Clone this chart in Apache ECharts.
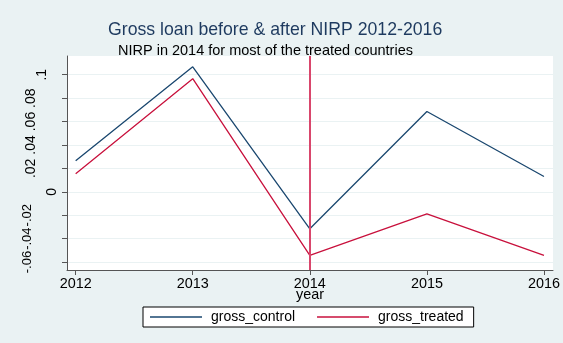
<!DOCTYPE html>
<html>
<head>
<meta charset="utf-8">
<script src="https://cdn.jsdelivr.net/npm/echarts@6/dist/echarts.min.js"></script>
<style>
	html, body { margin: 0; padding: 0; background: #eaf2f3; }
	#chart { width: 563px; height: 343px; }
</style>
</head>
<body>
<div id="chart"></div>
<script>
// 数据
var years = [2012, 2013, 2014, 2015, 2016];
var grossControl = [0.0265, 0.1068, -0.0316, 0.0686, 0.0131];
var grossTreated = [0.0154, 0.0966, -0.0544, -0.0188, -0.0544];
var yTicks = [-0.06, -0.04, -0.02, 0, 0.02, 0.04, 0.06, 0.08, 0.1];
var nirpYear = 2014;

// Stata 风格的数字 .02 / -.04
function stataNum(v) {
	if (v === 0) return '0';
	var s = String(Math.round(v * 100) / 100);
	return s.replace('0.', '.');
}

(function () {
	let myChart = echarts.init(document.getElementById('chart'));
	let font = 'Liberation Sans';
	let option = {
		backgroundColor: '#eaf2f3',
		animation: false,
		title: [
			{
				text: 'Gross loan before & after NIRP 2012-2016',
				left: 103,
				top: 16,
				textStyle: { color: '#1e3a5f', fontSize: 17.7, fontWeight: 'normal', fontFamily: font }
			},
			{
				text: 'NIRP in 2014 for most of the treated countries',
				left: 113,
				top: 38,
				textStyle: { color: '#000', fontSize: 14.5, fontWeight: 'normal', fontFamily: font }
			}
		],
		legend: {
			left: 143,
			top: 307,
			padding: [3, 10, 3, 7],
			itemGap: 22,
			itemWidth: 52,
			itemHeight: 1.5,
			icon: 'rect',
			backgroundColor: '#fff',
			borderColor: '#000',
			borderWidth: 1,
			borderRadius: 0,
			textStyle: { color: '#000', fontSize: 14, fontFamily: font, padding: [0, 0, 0, 4] }
		},
		grid: {
			left: 67,
			right: 10,
			top: 56,
			bottom: 73,
			show: true,
			backgroundColor: '#fff',
			borderWidth: 0
		},
		xAxis: {
			type: 'value',
			min: 2011.926,
			max: 2016.077,
			name: 'year',
			nameLocation: 'middle',
			nameGap: 18,
			nameMoveOverlap: false,
			nameTextStyle: { color: '#000', fontSize: 14.4, fontFamily: font },
			axisLine: { onZero: false, lineStyle: { color: '#555' } },
			axisTick: { customValues: years, length: 5, lineStyle: { color: '#555' } },
			axisLabel: {
				customValues: years,
				color: '#000',
				fontSize: 14.4,
				fontFamily: font,
				margin: 7,
				formatter: function (v) { return String(v); }
			},
			splitLine: { show: false }
		},
		yAxis: {
			type: 'value',
			min: -0.0668,
			max: 0.116,
			axisLine: { show: true, onZero: false, lineStyle: { color: '#555' } },
			axisTick: { show: true, customValues: yTicks, length: 5, lineStyle: { color: '#555' } },
			axisLabel: {
				customValues: yTicks,
				interval: 0,
				hideOverlap: false,
				showMinLabel: true,
				showMaxLabel: true,
				rotate: 90,
				color: '#000',
				fontSize: 14,
				fontFamily: font,
				margin: 5,
				formatter: function (v) {
					let s = stataNum(v);
					if (s === '0') return '{z|' + s + '}';
					if (s === '.1') return '{a|' + s + '}';
					if (s.charAt(0) === '-') return '{n|' + s + '}';
					return '{p|' + s + '}';
				},
				rich: {
					z: { fontSize: 14, fontFamily: font, color: '#000', padding: [0, 0, 3, 0] },
					a: { fontSize: 14, fontFamily: font, color: '#000', padding: [0, 0, 13, 0] },
					p: { fontSize: 14, fontFamily: font, color: '#000', padding: [0, 0, 24, 0] },
					n: { fontSize: 13, fontFamily: font, color: '#000', padding: [0, 0, 28, 0] }
				}
			},
			splitLine: { show: true, lineStyle: { color: '#eaf2f3', width: 1 } }
		},
		series: [
			{
				name: 'gross_control',
				type: 'line',
				symbol: 'none',
				lineStyle: { color: '#1a476f', width: 1.3 },
				itemStyle: { color: '#1a476f' },
				data: years.map(function (y, i) { return [y, grossControl[i]]; })
			},
			{
				name: 'gross_treated',
				type: 'line',
				symbol: 'none',
				lineStyle: { color: '#c8103c', width: 1.3 },
				itemStyle: { color: '#c8103c' },
				data: years.map(function (y, i) { return [y, grossTreated[i]]; }),
				markLine: {
					silent: true,
					symbol: 'none',
					label: { show: false },
					lineStyle: { color: '#d9466c', width: 2, type: 'solid' },
					data: [{ xAxis: nirpYear }]
				}
			}
		]
	};
	myChart.setOption(option);
	window.addEventListener('resize', function () {
		myChart.resize()
	})
})();
</script>
</body>
</html>
